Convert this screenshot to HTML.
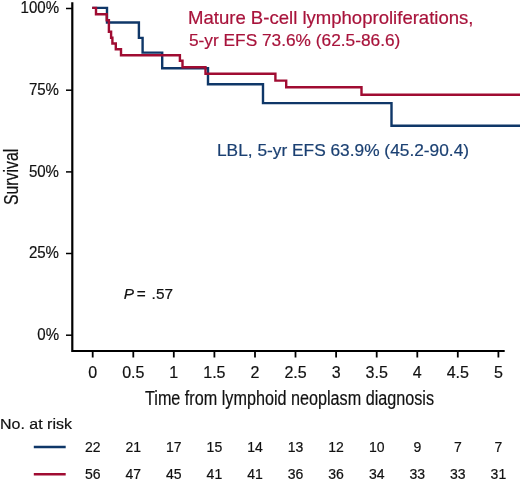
<!DOCTYPE html>
<html>
<head>
<meta charset="utf-8">
<style>
html,body{margin:0;padding:0;background:#fff;}
body{width:520px;height:482px;position:relative;overflow:hidden;will-change:transform;filter:blur(0.3px);font-family:"Liberation Sans",sans-serif;-webkit-text-stroke:0.2px currentColor;}
.t{position:absolute;white-space:nowrap;line-height:1;transform-origin:0 0;}
.yl{position:absolute;white-space:nowrap;line-height:1;font-size:16px;color:#111;text-align:right;width:60px;transform:scaleX(0.94);transform-origin:100% 0;}
.xl{position:absolute;white-space:nowrap;line-height:1;font-size:16px;color:#111;text-align:center;width:40px;}
.rn{position:absolute;white-space:nowrap;line-height:1;font-size:14px;color:#111;text-align:center;width:40px;}
svg{position:absolute;left:0;top:0;}
</style>
</head>
<body>
<svg width="520" height="482" viewBox="0 0 520 482">
  <!-- axes -->
  <g stroke="#000" fill="none">
    <path d="M72.3 2.3 V351 H504.7" stroke-width="2.2"/>
    <g stroke-width="1.5">
      <path d="M66 8.5 H72"/>
      <path d="M66 90.2 H72"/>
      <path d="M66 171.9 H72"/>
      <path d="M66 253.5 H72"/>
      <path d="M66 335.2 H72"/>
    </g>
    <g stroke-width="1.8">
      <path d="M92.7 351 V357.5"/>
      <path d="M133.3 351 V357.5"/>
      <path d="M173.8 351 V357.5"/>
      <path d="M214.4 351 V357.5"/>
      <path d="M255.0 351 V357.5"/>
      <path d="M295.5 351 V357.5"/>
      <path d="M336.1 351 V357.5"/>
      <path d="M376.7 351 V357.5"/>
      <path d="M417.3 351 V357.5"/>
      <path d="M457.8 351 V357.5"/>
      <path d="M498.4 351 V357.5"/>
    </g>
  </g>
  <!-- blue curve -->
  <path fill="none" stroke="#0f3768" stroke-width="2.4" stroke-linejoin="miter" stroke-linecap="butt"
    d="M92.3 7.9 H107 V22.5 H138.9 V37.9 H142.6 V52.6 H162.2 V68.3 H208 V84.3 H263 V103.1 H391.5 V125.7 H520"/>
  <!-- red curve -->
  <path fill="none" stroke="#a00c32" stroke-width="2.4" stroke-linejoin="miter" stroke-linecap="butt"
    d="M92.2 7.9 H96 V14.3 H106.7 V20.2 H108.9 V31.8 H111.1 V37.7 H112.4 V43.5 H115.8 V49.3 H121 V55.3 H179.9 V60.8 H182.5 V67.2 H205.5 V73.7 H275.4 V80.6 H286.2 V87.3 H361.5 V94.7 H520"/>
  <!-- legend lines -->
  <path d="M33.8 447 H65.7" stroke="#0f3768" stroke-width="2.4"/>
  <path d="M33.8 474.3 H65.7" stroke="#a00c32" stroke-width="2.4"/>
</svg>

<!-- y tick labels -->
<div class="yl" style="left:-1px;top:0px;">100%</div>
<div class="yl" style="left:-1px;top:82px;">75%</div>
<div class="yl" style="left:-1px;top:163.8px;">50%</div>
<div class="yl" style="left:-1px;top:245.4px;">25%</div>
<div class="yl" style="left:-1px;top:327.1px;">0%</div>

<!-- Survival -->
<div class="t" style="left:2px;top:204.5px;font-size:19.5px;color:#111;transform:rotate(-90deg) scaleX(0.81);">Survival</div>

<!-- x tick labels -->
<div class="xl" style="left:72.7px;top:364.7px;">0</div>
<div class="xl" style="left:113.3px;top:364.7px;">0.5</div>
<div class="xl" style="left:153.8px;top:364.7px;">1</div>
<div class="xl" style="left:194.4px;top:364.7px;">1.5</div>
<div class="xl" style="left:235px;top:364.7px;">2</div>
<div class="xl" style="left:275.5px;top:364.7px;">2.5</div>
<div class="xl" style="left:316.1px;top:364.7px;">3</div>
<div class="xl" style="left:356.7px;top:364.7px;">3.5</div>
<div class="xl" style="left:397.3px;top:364.7px;">4</div>
<div class="xl" style="left:437.8px;top:364.7px;">4.5</div>
<div class="xl" style="left:478.4px;top:364.7px;">5</div>

<!-- x title -->
<div class="t" style="left:144.5px;top:388.7px;font-size:19.5px;color:#111;transform:scaleX(0.83);">Time from lymphoid neoplasm diagnosis</div>

<!-- annotations -->
<div class="t" style="left:188.3px;top:9.6px;font-size:17.8px;color:#a8133b;transform:scaleX(1.043);">Mature B-cell lymphoproliferations,</div>
<div class="t" style="left:189px;top:32px;font-size:17.3px;color:#a8133b;">5-yr EFS 73.6% (62.5-86.6)</div>
<div class="t" style="left:216.5px;top:141.8px;font-size:17px;color:#1b4072;transform:scaleX(1.018);">LBL, 5-yr EFS 63.9% (45.2-90.4)</div>
<div class="t" style="left:123.8px;top:285.6px;font-size:15.4px;color:#111;"><i>P</i> <span style="position:relative;left:-1.5px;">=</span> .57</div>

<!-- risk table -->
<div class="t" style="left:0px;top:416px;font-size:15.3px;color:#111;transform:scaleX(1.045);">No. at risk</div>
<div class="rn" style="left:72.7px;top:440px;">22</div>
<div class="rn" style="left:113.3px;top:440px;">21</div>
<div class="rn" style="left:153.8px;top:440px;">17</div>
<div class="rn" style="left:194.4px;top:440px;">15</div>
<div class="rn" style="left:235px;top:440px;">14</div>
<div class="rn" style="left:275.5px;top:440px;">13</div>
<div class="rn" style="left:316.1px;top:440px;">12</div>
<div class="rn" style="left:356.7px;top:440px;">10</div>
<div class="rn" style="left:397.3px;top:440px;">9</div>
<div class="rn" style="left:437.8px;top:440px;">7</div>
<div class="rn" style="left:478.4px;top:440px;">7</div>

<div class="rn" style="left:72.7px;top:467px;">56</div>
<div class="rn" style="left:113.3px;top:467px;">47</div>
<div class="rn" style="left:153.8px;top:467px;">45</div>
<div class="rn" style="left:194.4px;top:467px;">41</div>
<div class="rn" style="left:235px;top:467px;">41</div>
<div class="rn" style="left:275.5px;top:467px;">36</div>
<div class="rn" style="left:316.1px;top:467px;">36</div>
<div class="rn" style="left:356.7px;top:467px;">34</div>
<div class="rn" style="left:397.3px;top:467px;">33</div>
<div class="rn" style="left:437.8px;top:467px;">33</div>
<div class="rn" style="left:478.4px;top:467px;">31</div>
</body>
</html>
